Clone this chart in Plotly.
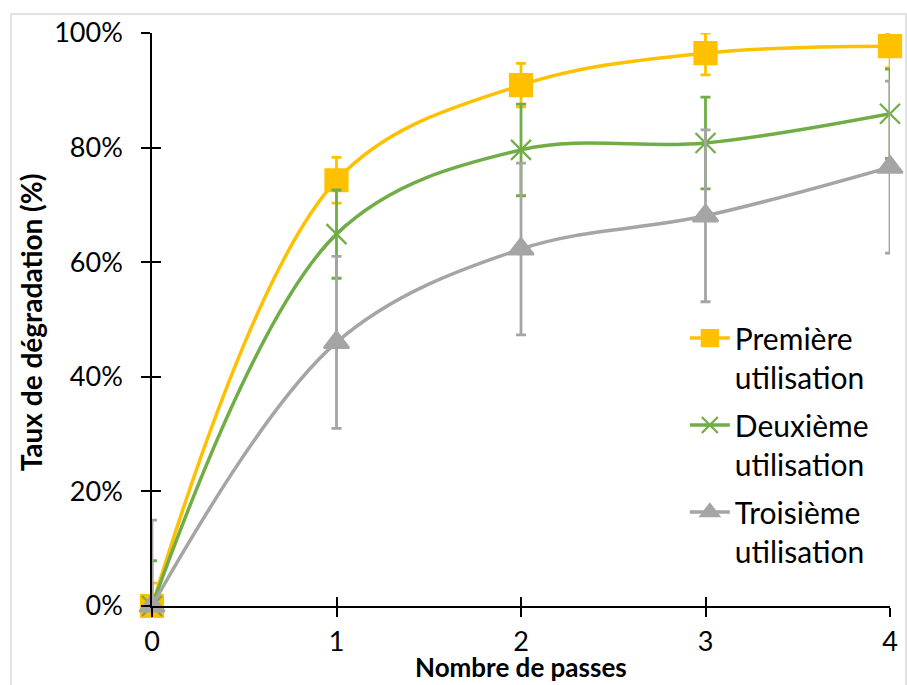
import plotly.graph_objects as go

passes = [0, 1, 2, 3, 4]
series_names = ["Première<br>utilisation", "Deuxième<br>utilisation", "Troisième<br>utilisation"]
premiere = [0.0, 0.743, 0.909, 0.965, 0.977]
deuxieme = [0.0, 0.649, 0.796, 0.808, 0.859]
troisieme = [0.0, 0.460, 0.623, 0.681, 0.766]
err_premiere = [0.04, 0.04, 0.038, 0.038, 0.038]
err_deuxieme = [0.079, 0.077, 0.08, 0.08, 0.078]
err_troisieme = [0.15, 0.15, 0.15, 0.15, 0.15]
y_ticks = [0, 0.2, 0.4, 0.6, 0.8, 1.0]
x_title = "Nombre de passes"
y_title = "Taux de dégradation (%)"

colors = ["#FFC000", "#70AD47", "#A5A5A5"]
symbols = ["square", "x-thin-open", "triangle-up"]
sizes = [22, 20, 22]

FONT = "Lato, Carlito, 'Open Sans', sans-serif"

fig = go.Figure()
for i, (name, vals, errs, col, sym, sz) in enumerate(zip(
        series_names, [premiere, deuxieme, troisieme],
        [err_premiere, err_deuxieme, err_troisieme], colors, symbols, sizes)):
    minus = [min(e, v) for e, v in zip(errs, vals)]
    plus = [min(e, 1.0 - v) for e, v in zip(errs, vals)]
    fig.add_trace(go.Scatter(
        x=passes, y=vals, name=name, mode="lines+markers", legendgroup=f"g{i}",
        line=dict(color=col, width=3.5, shape="spline", smoothing=1.0),
        marker=dict(symbol=sym, size=sz, color=col,
                    line=dict(color=col, width=2.2)),
        error_y=dict(type="data", symmetric=False, array=plus, arrayminus=minus,
                     color=col, thickness=2.8, width=5),
        cliponaxis=False,
    ))

# invisible trace to draw the inner half of the cross ticks
fig.add_trace(go.Scatter(x=passes, y=[0] * len(passes), xaxis="x2", yaxis="y2",
                         mode="markers", marker=dict(opacity=0), showlegend=False,
                         hoverinfo="skip"))

axis_common = dict(showgrid=False, zeroline=False, linecolor="black", linewidth=1.6,
                   tickcolor="black", tickwidth=1.6, ticklen=9, automargin=False)

fig.update_layout(
    width=907, height=685,
    margin=dict(l=152, r=17, t=33, b=79),
    paper_bgcolor="white", plot_bgcolor="white",
    font=dict(family=FONT, color="black", size=27),
    xaxis=dict(range=[0, 4], tickvals=passes, ticks="outside", showline=True,
               tickfont=dict(size=27), ticklabelstandoff=2, **axis_common),
    yaxis=dict(range=[0, 1], tickvals=y_ticks, tickformat=".0%", ticks="outside",
               showline=True, tickfont=dict(size=27), ticklabelstandoff=13,
               **axis_common),
    xaxis2=dict(range=[0, 4], tickvals=passes, ticks="inside", showline=False,
                showticklabels=False, overlaying="x", anchor="y", side="bottom",
                showgrid=False, zeroline=False, tickcolor="black", tickwidth=1.6,
                ticklen=9, automargin=False),
    yaxis2=dict(range=[0, 1], tickvals=y_ticks, ticks="inside", showline=False,
                showticklabels=False, overlaying="y", anchor="x", side="left",
                showgrid=False, zeroline=False, tickcolor="black", tickwidth=1.6,
                ticklen=9, automargin=False),
    legend=dict(x=0.722, y=0.513, xanchor="left", yanchor="top", valign="top",
                font=dict(size=30), bgcolor="rgba(0,0,0,0)", tracegroupgap=6,
                itemwidth=40),
    annotations=[
        dict(text=f"<b>{x_title}</b>", xref="paper", yref="paper", x=0.5, y=-0.1379,
             xanchor="center", yanchor="bottom", showarrow=False, font=dict(size=26)),
        dict(text=f"<b>{y_title}</b>", xref="paper", yref="paper", x=-0.1635, y=0.4956,
             xanchor="center", yanchor="middle", textangle=-90, showarrow=False,
             font=dict(size=28)),
    ],
    shapes=[dict(type="rect", xref="paper", yref="paper", x0=-0.191, x1=1.0217,
                 y0=-0.3, y1=1.0332, line=dict(color="#D9D9D9", width=1.5),
                 fillcolor="rgba(0,0,0,0)", layer="below")],
    showlegend=True,
)

fig.write_html("out.html", config={"displayModeBar": False},
               post_script="document.body.style.margin='0px';")
